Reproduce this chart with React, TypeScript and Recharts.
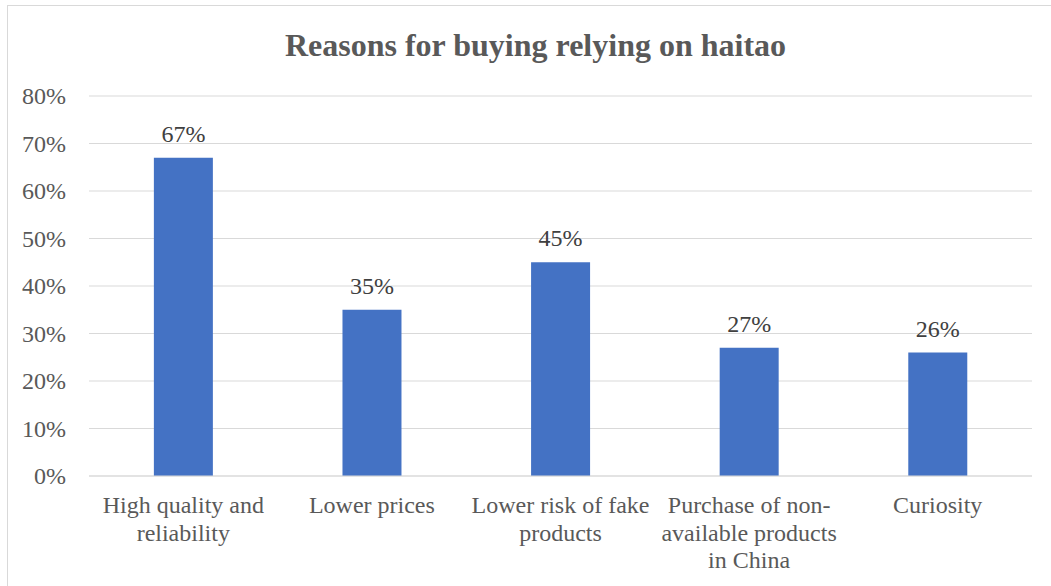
import { BarChart, Bar, XAxis, YAxis, CartesianGrid, LabelList } from 'recharts';

// Categories and values
const categories = [
  'High quality and reliability',
  'Lower prices',
  'Lower risk of fake products',
  'Purchase of non-available products in China',
  'Curiosity',
];
const shares = [67, 35, 45, 27, 26];
const tickLines = [
  ['High quality and', 'reliability'],
  ['Lower prices'],
  ['Lower risk of fake', 'products'],
  ['Purchase of non-', 'available products', 'in China'],
  ['Curiosity'],
];
const yTicks = [0, 10, 20, 30, 40, 50, 60, 70, 80];

const data = categories.map((name, i) => ({ name, share: shares[i] }));

const FONT = "'Liberation Serif', 'Times New Roman', serif";

const CategoryTick = ({ x, y, index }: any) => {
  const lines = tickLines[index] || [];
  return (
    <text x={x} y={y} textAnchor="middle" fill="#595959" style={{ fontFamily: FONT, fontSize: 24 }}>
      {lines.map((l, i) => (
        <tspan key={i} x={x} dy={i === 0 ? 29 : 27.5}>{l}</tspan>
      ))}
    </text>
  );
};

const ValueTick = ({ x, y, payload }: any) => (
  <text x={x} y={y} dy={8} textAnchor="end" fill="#595959" style={{ fontFamily: FONT, fontSize: 24 }}>
    {`${payload.value}%`}
  </text>
);

export default function App() {
  return (
    <div style={{ position: 'absolute', left: 0, top: 0, width: 1051, height: 586, background: '#fff', overflow: 'hidden', fontFamily: FONT }}>
      <div
        style={{
          position: 'absolute', left: 7, top: 5, width: 1060, height: 620,
          border: '1.5px solid #d9d9d9', boxSizing: 'border-box',
        }}
      />
      <div
        style={{
          position: 'absolute', left: 0, top: 26, width: 1071, textAlign: 'center',
          fontFamily: FONT, fontWeight: 'bold', fontSize: 32, color: '#595959', lineHeight: '38px',
        }}
      >
        Reasons for buying relying on haitao
      </div>
      <div style={{ position: 'absolute', left: 0, top: 0 }}>
        <BarChart
          width={1051}
          height={586}
          data={data}
          margin={{ top: 96, right: 19, bottom: 0, left: 0 }}
          barCategoryGap="34.4%"
          style={{ fontFamily: FONT }}
        >
          <CartesianGrid vertical={false} stroke="#d9d9d9" strokeWidth={1.2} />
          <XAxis
            dataKey="name"
            height={110}
            axisLine={{ stroke: '#d9d9d9', strokeWidth: 1.2 }}
            tickLine={false}
            tick={<CategoryTick />}
            interval={0}
          />
          <YAxis
            width={89}
            domain={[0, 80]}
            ticks={yTicks}
            axisLine={false}
            tickLine={false}
            tickSize={0}
            tickMargin={23}
            tick={<ValueTick />}
          />
          <Bar dataKey="share" fill="#4472C4" isAnimationActive={false}>
            <LabelList
              dataKey="share"
              position="top"
              offset={16}
              formatter={(v: any) => `${v}%`}
              fill="#404040"
              style={{ fontFamily: FONT, fontSize: 24 }}
            />
          </Bar>
        </BarChart>
      </div>
    </div>
  );
}
